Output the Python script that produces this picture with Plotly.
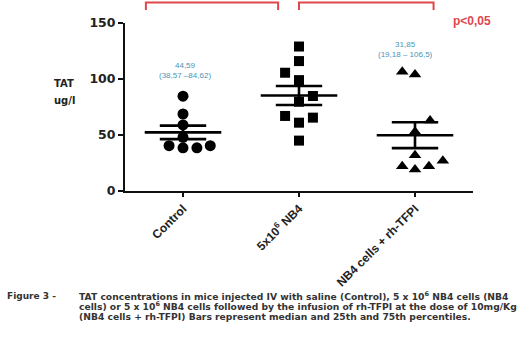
import numpy as np
import plotly.graph_objects as go

# ---- data ----
categories = ["Control", "5x10<sup>6</sup> NB4", "NB4 cells + rh-TFPI"]
control_vals = [84.62, 68.75, 59.0, 48.0, 40.5, 38.57, 38.57, 40.5]
nb4_vals = [129.0, 116.0, 105.6, 99.0, 84.8, 79.7, 67.0, 65.5, 61.0, 45.0]
tfpi_vals = [106.5, 104.0, 63.0, 53.0, 31.85, 22.0, 19.18, 22.0, 27.0]
median_labels = ["44,59<br>(38,57 –84,62)", "82,23<br>(45,68 – 129)", "31,85<br>(19,18 – 106,5)"]
y_ticks = [0, 50, 100, 150]

# horizontal jitter of the dots (category units), as drawn in the figure
control_spread = [0, 0, 0, 0, -0.12, 0, 0.12, 0.235]
nb4_spread = [0, 0, -0.12, 0, 0.12, 0, -0.12, 0.12, 0, 0]
tfpi_spread = [-0.11, 0, 0.13, 0, 0, -0.11, 0, 0.12, 0.24]

groups = [
    (control_vals, control_spread, "circle", 11),
    (nb4_vals, nb4_spread, "square", 10),
    (tfpi_vals, tfpi_spread, "triangle-up", 11),
]

FONT = "Liberation Sans, Arial, sans-serif"
WIDE = "DejaVu Sans, Verdana, sans-serif"
fig = go.Figure()

for i, (vals, spread, sym, size) in enumerate(groups):
    fig.add_trace(go.Scatter(
        x=[i + s for s in spread], y=vals, mode="markers",
        marker=dict(symbol=sym, size=size, color="black", line=dict(width=0)),
        showlegend=False, hoverinfo="y", cliponaxis=False))

# mean and SEM bars
for i, (vals, _, _, _) in enumerate(groups):
    v = np.array(vals)
    m = v.mean()
    sem = v.std(ddof=1) / np.sqrt(len(v))
    xs = [i - 0.33, i + 0.33, None, i - 0.2, i + 0.2, None, i - 0.2, i + 0.2, None, i, i]
    ys = [m, m, None, m + sem, m + sem, None, m - sem, m - sem, None, m - sem, m + sem]
    fig.add_trace(go.Scatter(x=xs, y=ys, mode="lines", line=dict(color="black", width=2.6),
                             showlegend=False, hoverinfo="skip"))

# median / range labels
label_y = [108, 152.5, 126]
label_x = [0.02, 0.99, 1.92]
for lx, ly, txt in zip(label_x, label_y, median_labels):
    fig.add_annotation(x=lx, y=ly, xref="x", yref="y", text=txt, showarrow=False,
                       font=dict(family=FONT, size=8, color="#4a94b8"), align="center")

# significance brackets
red = "#e0474c"
for x0, x1 in [(-0.32, 0.82), (1.0, 2.16)]:
    fig.add_shape(type="path", xref="x", yref="paper",
                  path=f"M {x0},1.077 L {x0},1.122 L {x1},1.122 L {x1},1.077",
                  line=dict(color=red, width=2))
fig.add_annotation(xref="paper", yref="paper", x=1.058, y=1.065, text="<b>p<0,05</b>",
                   showarrow=False, font=dict(family=FONT, size=12, color=red))

# y-axis title
fig.add_annotation(xref="paper", yref="paper", x=-0.21, y=0.637, text="<b>TAT</b>",
                   showarrow=False, font=dict(family=WIDE, size=10, color="#222"))
fig.add_annotation(xref="paper", yref="paper", x=-0.21, y=0.54, text="<b>ug/l</b>",
                   showarrow=False, font=dict(family=WIDE, size=10, color="#222"))

# caption
fig.add_annotation(xref="paper", yref="paper", x=-0.345, y=-0.625, xanchor="left", yanchor="middle",
                   text="<b>Figure 3 -</b>", showarrow=False, align="left",
                   font=dict(family=WIDE, size=9, color="#333"))
caption_lines = [
    "<b>TAT concentrations in mice injected IV with saline (Control), 5 x 10<sup>6</sup> NB4 cells (NB4</b>",
    "<b>cells) or 5 x 10<sup>6</sup> NB4 cells followed by the infusion of rh-TFPI at the dose of 10mg/Kg</b>",
    "<b>(NB4 cells + rh-TFPI) Bars represent median and 25th and 75th percentiles.</b>",
]
for k, line in enumerate(caption_lines):
    fig.add_annotation(xref="paper", yref="paper", x=-0.138, y=-0.625 - 0.06 * k,
                       xanchor="left", yanchor="middle", text=line, showarrow=False,
                       align="left", font=dict(family=WIDE, size=9.2, color="#333"))

fig.update_layout(
    width=520, height=340,
    margin=dict(l=125, r=47, t=23, b=149, autoexpand=False),
    paper_bgcolor="white", plot_bgcolor="white",
    font=dict(family=FONT, color="black"),
    xaxis=dict(range=[-0.5, 2.5], tickvals=[0, 1, 2], automargin=False,
               ticktext=[f"<b>{c}</b>" for c in categories], tickangle=-45,
               showline=True, linecolor="#111", linewidth=2, ticks="outside",
               ticklen=4, tickwidth=2, tickcolor="#111", showgrid=False, zeroline=False,
               tickfont=dict(family=FONT, size=12, color="#222")),
    yaxis=dict(range=[0, 150], tickvals=y_ticks, ticktext=[f"<b>{t}</b>" for t in y_ticks],
               automargin=False,
               showline=True, linecolor="#111", linewidth=2, ticks="outside",
               ticklen=5, tickwidth=2, tickcolor="#111", showgrid=False, zeroline=False,
               tickfont=dict(family=WIDE, size=12.5, color="#222")),
)

# remove the browser's default 8px page margin so the figure fills the window
fig.write_html("out.html", config={"displayModeBar": False},
               post_script="document.body.style.margin='0';")
